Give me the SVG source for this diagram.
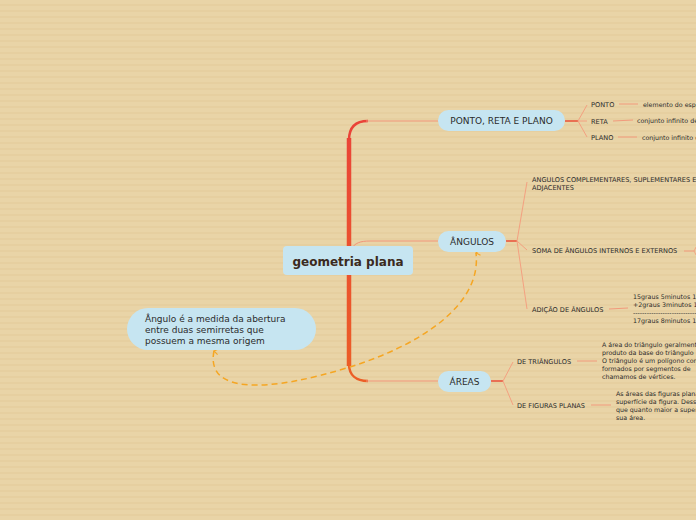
<svg xmlns="http://www.w3.org/2000/svg" width="696" height="520" viewBox="0 0 696 520">
<defs>
<pattern id="stripes" width="8" height="6" patternUnits="userSpaceOnUse">
<rect width="8" height="6" fill="#e9d4a7"/>
<rect y="4" width="8" height="2" fill="#e6cfa0"/>
</pattern>
<linearGradient id="trunkGrad" x1="0" y1="121" x2="0" y2="381" gradientUnits="userSpaceOnUse">
<stop offset="0" stop-color="#ea4338"/>
<stop offset="1" stop-color="#ec5e26"/>
</linearGradient>
<marker id="arr" viewBox="0 0 10 10" refX="5" refY="2" markerWidth="7" markerHeight="7" orient="auto-start-reverse" markerUnits="userSpaceOnUse">
<path d="M1 8 L5 2 L9 8" fill="none" stroke="#f5a623" stroke-width="1.6"/>
</marker>
</defs>
<style>
.main{fill:#c6e5f1}
.t{font-family:"DejaVu Sans",sans-serif;fill:#2b2b2b}
.c{font-family:"DejaVu Sans",sans-serif;font-weight:bold;font-size:12px;fill:#3b2a20}
.n{font-size:9px}
.s{font-size:6.6px}
.d{font-size:6.3px}
.thin{fill:none;stroke:#f2957a;stroke-width:1}
.stub{fill:none;stroke:#e9573f;stroke-width:1.6}
.fan{fill:none;stroke:#f4a080;stroke-width:1}
.lead{fill:none;stroke:#f29a7c;stroke-width:1}
</style>
<rect width="696" height="520" fill="url(#stripes)"/>

<g id="connectors">
<path d="M349 138 L349 366" stroke="url(#trunkGrad)" stroke-width="4.5" fill="none"/>
<path d="M349 140 C349 127 356 121 368 121" stroke="#ea4338" stroke-width="2.5" fill="none"/>
<path d="M349 364 C349 375 356 381 368 381" stroke="#ec5e26" stroke-width="2.5" fill="none"/>
<path class="thin" d="M366 121 L438 121"/>
<path class="thin" d="M366 381 L438 381"/>
<path class="thin" d="M351 249 C355 243 360 241 370 241 L438 241"/>

<path class="stub" d="M565 121 L578 121"/>
<path class="fan" d="M578 121 L587 105 M578 121 L587 121 M578 121 L587 137"/>
<path class="lead" d="M619 104 L638 104 M613 121 L633 120 M618 137 L637 137"/>

<path class="stub" d="M506 241 L517 241"/>
<path class="fan" d="M517 241 L527 182 M517 241 L527 250 M517 241 L527 309"/>
<path class="lead" d="M684 251 L694 251"/>
<path class="fan" d="M694 251 C695 249 696 247 697 246 M694 251 C695 253 696 255 697 256"/>
<path class="lead" d="M609 309 L628 308"/>

<path class="stub" d="M491 381 L503 381"/>
<path class="fan" d="M503 381 L513 362 M503 381 L513 405"/>
<path class="lead" d="M577 361 L597 361 M591 405 L611 405"/>

<path d="M214 351 C205 395 270 392 350 367 C420 345 482 305 476 253" fill="none" stroke="#f5a623" stroke-width="1.5" stroke-dasharray="6 4" marker-start="url(#arr)" marker-end="url(#arr)"/>
</g>

<g id="center">
<rect x="283" y="246" width="130" height="29" rx="4" class="main"/>
<text x="348" y="266" text-anchor="middle" class="c">geometria plana</text>
</g>

<g id="ponto-reta-plano">
<rect x="438" y="110" width="127" height="21" rx="10.5" class="main"/>
<text x="501.5" y="124" text-anchor="middle" class="t n">PONTO, RETA E PLANO</text>
</g>
<g id="ponto"><text x="591" y="106.5" class="t s">PONTO</text><text x="643" y="106.5" class="t d">elemento do espaço</text></g>
<g id="reta"><text x="591" y="123.5" class="t s">RETA</text><text x="637" y="122.5" class="t d">conjunto infinito de pontos</text></g>
<g id="plano"><text x="591" y="139.5" class="t s">PLANO</text><text x="642" y="139.5" class="t d">conjunto infinito de retas</text></g>

<g id="angulos">
<rect x="438" y="231" width="68" height="21" rx="10.5" class="main"/>
<text x="472" y="245" text-anchor="middle" class="t n">ÂNGULOS</text>
</g>
<g id="complementares"><text x="532" y="182" class="t s">ANGULOS COMPLEMENTARES, SUPLEMENTARES E</text><text x="532" y="190" class="t s">ADJACENTES</text></g>
<g id="soma"><text x="532" y="253" class="t s">SOMA DE ÂNGULOS INTERNOS E EXTERNOS</text></g>
<g id="adicao"><text x="532" y="312" class="t s">ADIÇÃO DE ÂNGULOS</text>
<text x="633" y="299" class="t d">15graus 5minutos 1</text>
<text x="633" y="307" class="t d">+2graus 3minutos 1</text>
<text x="633" y="314.5" class="t d">------------------------------------</text>
<text x="633" y="323" class="t d">17graus 8minutos 1</text>
</g>

<g id="areas">
<rect x="438" y="371" width="53" height="21" rx="10.5" class="main"/>
<text x="464.5" y="385" text-anchor="middle" class="t n">ÁREAS</text>
</g>
<g id="triangulos"><text x="517" y="364" class="t s">DE TRIÂNGULOS</text>
<text x="602" y="347" class="t d">A área do triângulo geralmente</text>
<text x="602" y="355" class="t d">produto da base do triângulo</text>
<text x="602" y="363" class="t d">O triângulo é um polígono com</text>
<text x="602" y="371" class="t d">formados por segmentos de</text>
<text x="602" y="379" class="t d">chamamos de vértices.</text>
</g>
<g id="figuras"><text x="517" y="408" class="t s">DE FIGURAS PLANAS</text>
<text x="616" y="396" class="t d">As áreas das figuras planas</text>
<text x="616" y="404" class="t d">superfície da figura. Desse</text>
<text x="616" y="412" class="t d">que quanto maior a superfície</text>
<text x="616" y="420" class="t d">sua área.</text>
</g>

<g id="note">
<rect x="127" y="308" width="189" height="42" rx="21" class="main"/>
<text x="145" y="322" class="t n">Ângulo é a medida da abertura</text>
<text x="145" y="333" class="t n">entre duas semirretas que</text>
<text x="145" y="344" class="t n">possuem a mesma origem</text>
</g>
</svg>
